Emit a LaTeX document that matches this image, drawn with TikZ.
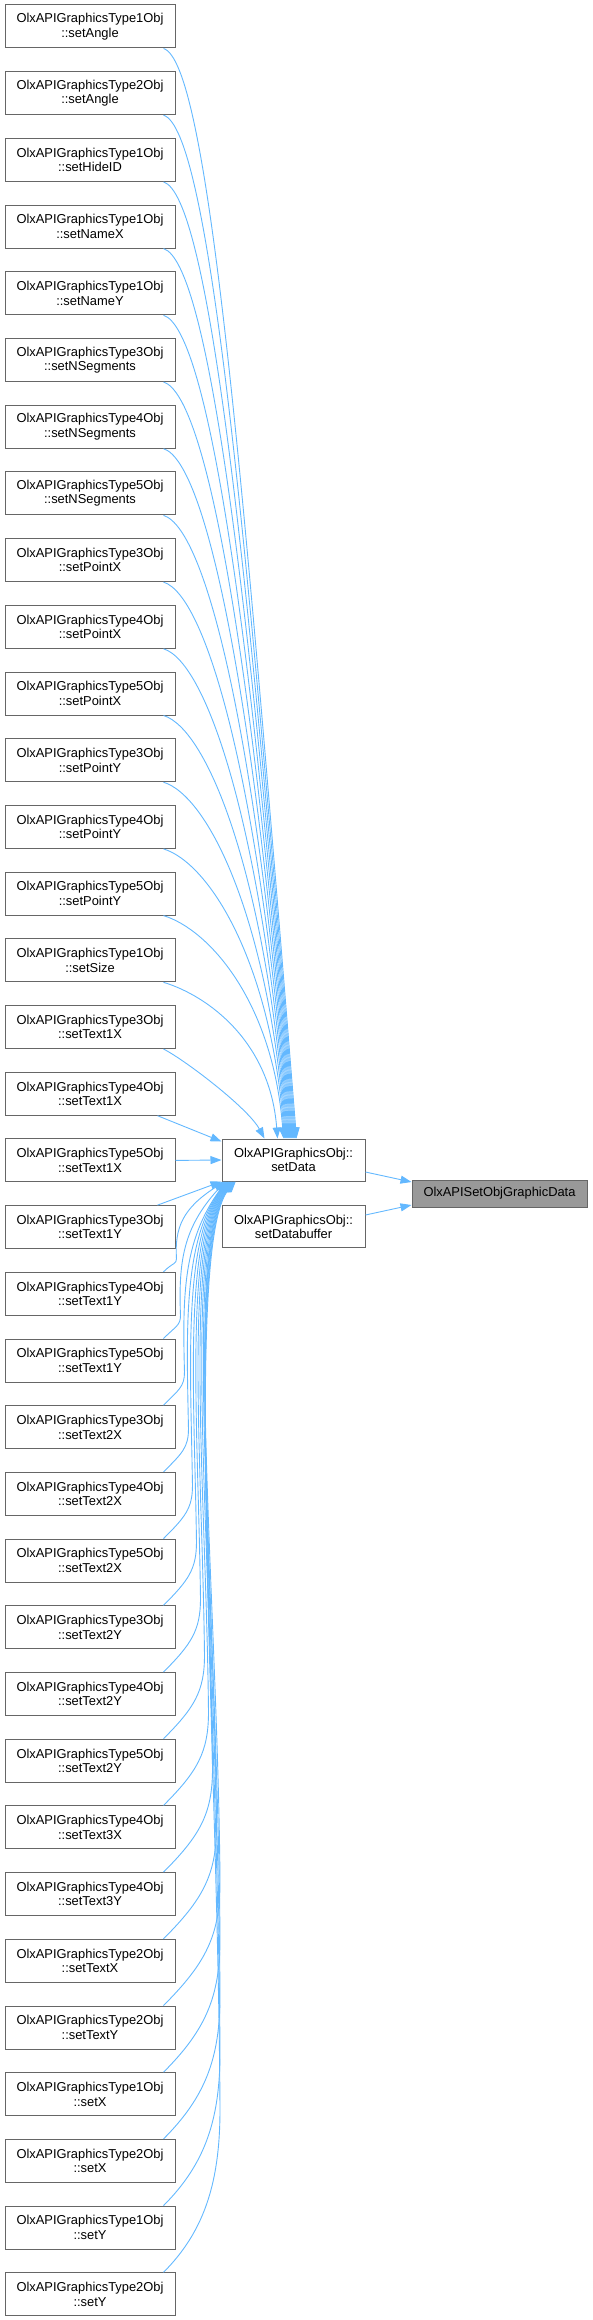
\documentclass[tikz,border=0pt]{standalone}
\usepackage{fontspec}
\setmainfont{Liberation Sans}
\usetikzlibrary{arrows.meta}
\definecolor{edgec}{HTML}{63B8FF}
\definecolor{bordc}{HTML}{666666}
\definecolor{rootc}{HTML}{999999}
\begin{document}
\begin{tikzpicture}[x=1pt,y=-1pt,
  box/.style={draw=bordc, line width=1pt, fill=white, minimum width=170pt, minimum height=43pt, inner sep=0pt, align=center, font=\fontsize{12.9}{14.5}\selectfont},
  midbox/.style={box, minimum width=143pt, minimum height=42pt},
  rootbox/.style={box, fill=rootc, minimum width=175pt, minimum height=27pt},
  edge/.style={draw=edgec, line width=0.9pt, -{Triangle[length=11pt,width=8pt]}},
]
\useasboundingbox (0,0) rectangle (593,2320);

\foreach \ty/\m [count=\i from 0] in {1/setAngle,2/setAngle,1/setHideID,1/setNameX,1/setNameY,3/setNSegments,4/setNSegments,5/setNSegments,3/setPointX,4/setPointX,5/setPointX,3/setPointY,4/setPointY,5/setPointY,1/setSize,3/setText1X,4/setText1X,5/setText1X,3/setText1Y,4/setText1Y,5/setText1Y,3/setText2X,4/setText2X,5/setText2X,3/setText2Y,4/setText2Y,5/setText2Y,4/setText3X,4/setText3Y,2/setTextX,2/setTextY,1/setX,2/setX,1/setY,2/setY}
  \node[box] (n\i) at (90,{26.5+66.7*\i}) {OlxAPIGraphicsType\ty Obj\\::\m};

\node[midbox] (sd) at (293.5,1160) {OlxAPIGraphicsObj::\\setData};
\node[midbox] (sdb) at (293.5,1226.7) {OlxAPIGraphicsObj::\\setDatabuffer};
\node[rootbox] (tg) at (499.5,1193.5) {OlxAPISetObjGraphicData};

% upper callers
\foreach \i in {0,...,14} {
  \pgfmathsetmacro{\yb}{48+66.7*\i}
  \pgfmathsetmacro{\dy}{1139-\yb}
  \pgfmathsetmacro{\xe}{\i<14 ? 297-\i : 278}
  \draw[edge] ([xshift=-12pt]n\i.south east) .. controls (208,{\yb+14}) and ({\xe-0.05*\dy},{\yb+0.38*\dy}) .. ([xshift={\xe-222}]sd.north west);
}
\draw[edge] ([xshift=-12pt]n15.south east) .. controls (185,1060) and (248,1108) .. ([xshift=43pt]sd.north west);
\draw[edge] ([xshift=-18pt]n16.south east) -- ([yshift=-3pt]sd.north west);
\draw[edge] (n17.east) -- (sd.west);
\draw[edge] ([xshift=-18pt]n18.north east) -- (sd.south west);

% lower callers
\foreach \i in {19,...,34} {
  \pgfmathsetmacro{\tp}{5+66.7*\i}
  \pgfmathsetmacro{\d}{\tp-1181}
  \pgfmathsetmacro{\h}{0.15*\d}
  \pgfmathsetmacro{\xv}{163+min(57,8+0.06*\d)}
  \pgfmathsetmacro{\yv}{\tp-\h}
  \pgfmathsetmacro{\w}{0.75*(\xv-163)}
  \pgfmathsetmacro{\r}{\yv-1181}
  \pgfmathsetmacro{\s}{3+(\i-19)*0.75}
  \draw[edge] ([xshift=-12pt]n\i.north east)
     .. controls ({163+\w},{\tp-\w}) and (\xv,{\tp-0.57*\h}) .. (\xv,\yv)
     .. controls ({\xv-2},{\yv-0.4*\r}) and (183,{1181+min(60,0.35*\r)}) .. ([xshift=\s]sd.south west);
}

\draw[edge] ([yshift=-12pt]sd.east) -- ([yshift=11.5pt]tg.west);
\draw[edge] ([yshift=11.7pt]sdb.east) -- ([yshift=-11.5pt]tg.west);
\end{tikzpicture}
\end{document}
